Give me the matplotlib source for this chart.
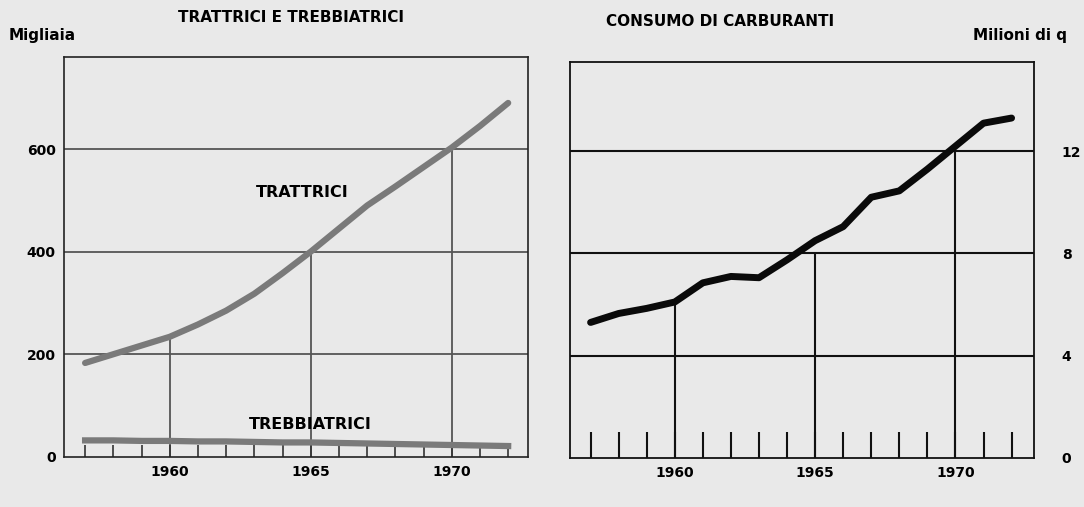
import numpy as np
import matplotlib.pyplot as plt

# data
anni = [1957, 1958, 1959, 1960, 1961, 1962, 1963, 1964,
        1965, 1966, 1967, 1968, 1969, 1970, 1971, 1972]
trattrici = [183, 200, 217, 234, 258, 285, 318, 358,
             400, 445, 490, 527, 565, 603, 645, 690]
trebbiatrici = [32, 32, 31, 31, 30, 30, 29, 28,
                28, 27, 26, 25, 24, 23, 22, 21]
carburanti = [5.3, 5.65, 5.85, 6.1, 6.85, 7.1, 7.05, 7.75,
              8.5, 9.05, 10.2, 10.45, 11.3, 12.2, 13.1, 13.3]

anni_guida = [1960, 1965, 1970]
guida_sx = [234, 400, 600]
guida_dx = [6.0, 8, 12]

yticks_sx = [0, 200, 400, 600]
yticks_dx = [0, 4, 8, 12]

bg = '#e9e9e9'
plt.rcParams['font.family'] = ['DejaVu Sans']
plt.rcParams['font.weight'] = 'bold'

fig = plt.figure(figsize=(10.84, 5.07), dpi=100, facecolor=bg)

# left panel
ax1 = fig.add_axes([0.059, 0.099, 0.428, 0.789], facecolor=bg)
ax1.set_xlim(1956.25, 1972.7)
ax1.set_ylim(0, 780)
for v in yticks_sx[1:]:
    ax1.axhline(v, color='#555555', lw=1.3, zorder=1)
for a, t in zip(anni_guida, guida_sx):
    ax1.vlines(a, 0, t, color='#555555', lw=1.3, zorder=1)
ax1.vlines(anni, 0, 23, color='#333333', lw=1.2, zorder=1)
ax1.plot(anni, trattrici, color='#7a7a7a', lw=4.5, solid_capstyle='round', zorder=3)
ax1.plot(anni, trebbiatrici, color='#7a7a7a', lw=4.5, zorder=3)
ax1.text(1964.7, 515, 'TRATTRICI', ha='center', va='center', fontsize=11.5, fontweight='bold')
ax1.text(1965.0, 63, 'TREBBIATRICI', ha='center', va='center', fontsize=11.5, fontweight='bold')
ax1.set_xticks(anni_guida)
ax1.set_yticks(yticks_sx)
ax1.tick_params(length=0, labelsize=10, pad=6)
for s in ax1.spines.values():
    s.set_color('#222222')
    s.set_linewidth(1.2)
fig.text(0.268, 0.965, 'TRATTRICI E TREBBIATRICI', ha='center', va='center',
         fontsize=11, fontweight='bold')
fig.text(0.008, 0.93, 'Migliaia', ha='left', va='center', fontsize=11, fontweight='bold')

# right panel
ax2 = fig.add_axes([0.5254, 0.097, 0.4285, 0.781], facecolor=bg)
ax2.set_xlim(1956.25, 1972.8)
ax2.set_ylim(0, 15.5)
for v in yticks_dx[1:]:
    ax2.axhline(v, color='#111111', lw=1.5, zorder=1)
for a, t in zip(anni_guida, guida_dx):
    ax2.vlines(a, 0, t, color='#111111', lw=1.5, zorder=1)
ax2.vlines(anni, 0, 1.0, color='#111111', lw=1.5, zorder=1)
ax2.plot(anni, carburanti, color='#0a0a0a', lw=5, solid_capstyle='round', zorder=3)
ax2.set_xticks(anni_guida)
ax2.set_yticks(yticks_dx)
ax2.yaxis.tick_right()
ax2.tick_params(length=0, labelsize=10, pad=6)
ax2.tick_params(axis='y', pad=20)
for s in ax2.spines.values():
    s.set_color('#111111')
    s.set_linewidth(1.3)
fig.text(0.664, 0.958, 'CONSUMO DI CARBURANTI', ha='center', va='center',
         fontsize=11, fontweight='bold')
fig.text(0.898, 0.93, 'Milioni di q', ha='left', va='center', fontsize=11, fontweight='bold')

fig.savefig('out.png', dpi=100, facecolor=bg)
